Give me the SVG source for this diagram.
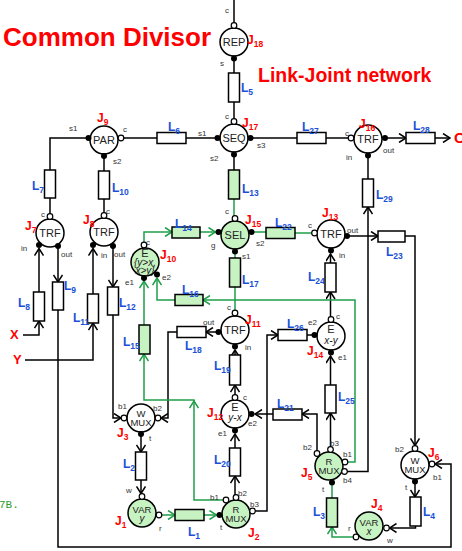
<svg xmlns="http://www.w3.org/2000/svg" width="462" height="551" viewBox="0 0 462 551">
<style>
.ln{fill:none;stroke:#000;stroke-width:1.5}
.gl{fill:none;stroke:#1e9e48;stroke-width:1.5}
.nd{fill:#fff;stroke:#000;stroke-width:1.5}
.ng{fill:#c7f2c1;stroke:#000;stroke-width:1.5}
.lk{fill:#fff;stroke:#000;stroke-width:1.5}
.lg{fill:#c7f2c1;stroke:#000;stroke-width:1.5}
.pf{fill:#000}
.po{fill:#fff;stroke:#000;stroke-width:1.2}
.nt{font-family:"Liberation Sans",Arial,sans-serif;font-size:11px;fill:#222;text-anchor:middle}
.nm{font-family:"Liberation Sans",Arial,sans-serif;font-size:9.5px;fill:#222;text-anchor:middle}
.ni{font-family:"Liberation Sans",Arial,sans-serif;font-size:10px;font-style:italic;fill:#222;text-anchor:middle}
.pt{font-family:"Liberation Sans",Arial,sans-serif;font-size:8px;fill:#333}
.jl{font-family:"Liberation Sans",Arial,sans-serif;font-size:12px;font-weight:bold;fill:#f00}
.ll{font-family:"Liberation Sans",Arial,sans-serif;font-size:12px;font-weight:bold;fill:#1a50d8}
.sb{font-size:8.5px}
.tt{font-family:"Liberation Sans",Arial,sans-serif;font-weight:bold;fill:#f00}
</style>
<defs>
<marker id="a" viewBox="-8 -5 9 10" refX="0" refY="0" markerWidth="9" markerHeight="10" markerUnits="userSpaceOnUse" orient="auto"><path d="M-7,-4.5 L0,0 L-7,4.5" fill="none" stroke="#000" stroke-width="1.5"/></marker>
<marker id="g" viewBox="-8 -5 9 10" refX="0" refY="0" markerWidth="9" markerHeight="10" markerUnits="userSpaceOnUse" orient="auto"><path d="M-7,-4.5 L0,0 L-7,4.5" fill="none" stroke="#1e9e48" stroke-width="1.5"/></marker>
</defs>
<rect width="462" height="551" fill="#fff"/>
<text class="tt" x="3" y="46" font-size="26">Common Divisor</text>
<text class="tt" x="258" y="82" font-size="19.5">Link-Joint network</text>
<text x="-1" y="508" font-family="Liberation Mono,monospace" font-size="11" fill="#2ca02c">7B.</text>
<g id="connectors">
<path class="ln" d="M234,0V23"/>
<path class="ln" d="M234,58V73"/>
<path class="ln" d="M234,102V119"/>
<path class="ln" d="M121,138H157"/>
<path class="ln" d="M186,138H218"/>
<path class="ln" d="M250,138H297"/>
<path class="ln" d="M326,138H351"/>
<path class="ln" d="M385,138H406" marker-end="url(#a)"/>
<path class="ln" d="M435,138H450" marker-end="url(#a)"/>
<path class="ln" d="M234,155V170"/>
<path class="ln" d="M88,138H50V170"/>
<path class="ln" d="M50,198V216"/>
<path class="ln" d="M104,156V171"/>
<path class="ln" d="M104,199V215"/>
<path class="ln" d="M39,292V248.5" marker-end="url(#a)"/>
<path class="ln" d="M23,335H39V321" marker-end="url(#a)"/>
<path class="ln" d="M58,246V282" marker-end="url(#a)"/>
<path class="ln" d="M58,310V547H451V464H435" marker-end="url(#a)"/>
<path class="ln" d="M93,294V248.5" marker-end="url(#a)"/>
<path class="ln" d="M25,360H93V323" marker-end="url(#a)"/>
<path class="ln" d="M113,246V287" marker-end="url(#a)"/>
<path class="ln" d="M113,315V418H121" marker-end="url(#a)"/>
<path class="ln" d="M218,332H206" marker-end="url(#a)"/>
<path class="ln" d="M177,332H168V418H161" marker-end="url(#a)"/>
<path class="ln" d="M141,434V452" marker-end="url(#a)"/>
<path class="ln" d="M141,480V493.5" marker-end="url(#a)"/>
<path class="ln" d="M235,397V385" marker-end="url(#a)"/>
<path class="ln" d="M235,355V350" marker-end="url(#a)"/>
<path class="ln" d="M235,497V476" marker-end="url(#a)"/>
<path class="ln" d="M235,448V434" marker-end="url(#a)"/>
<path class="ln" d="M252,511H267V335H278" marker-end="url(#a)"/>
<path class="ln" d="M307,335H314"/>
<path class="ln" d="M317,453V414H302" marker-end="url(#a)"/>
<path class="ln" d="M273,414H255" marker-end="url(#a)"/>
<path class="ln" d="M330.5,449V413" marker-end="url(#a)"/>
<path class="ln" d="M330.5,385V356" marker-end="url(#a)"/>
<path class="ln" d="M330.5,319V292" marker-end="url(#a)"/>
<path class="ln" d="M330.5,263V254" marker-end="url(#a)"/>
<path class="ln" d="M344,471.5H368V207" marker-end="url(#a)"/>
<path class="ln" d="M368,179V155"/>
<path class="ln" d="M347,236H378" marker-end="url(#a)"/>
<path class="ln" d="M404,236H415V445.5" marker-end="url(#a)"/>
<path class="ln" d="M415,481V497" marker-end="url(#a)"/>
<path class="ln" d="M415.5,526V528H389.5" marker-end="url(#a)"/>
<path class="gl" d="M234,199V216"/>
<path class="gl" d="M235,251V258"/>
<path class="gl" d="M235,287V313"/>
<path class="gl" d="M144,245V232H172" marker-end="url(#g)"/>
<path class="gl" d="M200,232H215.5" marker-end="url(#g)"/>
<path class="gl" d="M251,232H266"/>
<path class="gl" d="M295,233H312"/>
<path class="gl" d="M345,462H355V300H203" marker-end="url(#g)"/>
<path class="gl" d="M175,300H157V278" marker-end="url(#g)"/>
<path class="gl" d="M226,500H194V401" marker-end="url(#g)"/>
<path class="gl" d="M194,401V400H144V354" marker-end="url(#g)"/>
<path class="gl" d="M144,325V281" marker-end="url(#g)"/>
<path class="gl" d="M159,515H175" marker-end="url(#g)"/>
<path class="gl" d="M204,515H216.5" marker-end="url(#g)"/>
<path class="gl" d="M332,482V498"/>
<path class="gl" d="M353.5,537H332V527" marker-end="url(#g)"/>
<text class="tt" x="454" y="143" font-size="15">O</text>
<text class="tt" x="10" y="339" font-size="13">X</text>
<text class="tt" x="13" y="364" font-size="13">Y</text>
</g>
<g id="links">
<g id="L1"><rect class="lg" x="175" y="509.5" width="29" height="11"/><text class="ll" x="188" y="536">L<tspan class="sb" dy="3">1</tspan></text></g>
<g id="L2"><rect class="lk" x="135.5" y="452" width="11" height="28"/><text class="ll" x="123" y="468">L<tspan class="sb" dy="3">2</tspan></text></g>
<g id="L3"><rect class="lg" x="326.5" y="498" width="11" height="29"/><text class="ll" x="313" y="516">L<tspan class="sb" dy="3">3</tspan></text></g>
<g id="L4"><rect class="lk" x="410" y="497" width="11" height="29"/><text class="ll" x="423" y="516">L<tspan class="sb" dy="3">4</tspan></text></g>
<g id="L5"><rect class="lk" x="228.5" y="73" width="11" height="29"/><text class="ll" x="241" y="92">L<tspan class="sb" dy="3">5</tspan></text></g>
<g id="L6"><rect class="lk" x="157" y="132.5" width="29" height="11"/><text class="ll" x="168" y="131">L<tspan class="sb" dy="3">6</tspan></text></g>
<g id="L7"><rect class="lk" x="44.5" y="170" width="11" height="28"/><text class="ll" x="32" y="190">L<tspan class="sb" dy="3">7</tspan></text></g>
<g id="L8"><rect class="lk" x="33.5" y="292" width="11" height="29"/><text class="ll" x="18" y="307">L<tspan class="sb" dy="3">8</tspan></text></g>
<g id="L9"><rect class="lk" x="52.5" y="282" width="11" height="28"/><text class="ll" x="64" y="290">L<tspan class="sb" dy="3">9</tspan></text></g>
<g id="L10"><rect class="lk" x="98.5" y="171" width="11" height="28"/><text class="ll" x="112" y="192">L<tspan class="sb" dy="3">10</tspan></text></g>
<g id="L11"><rect class="lk" x="87.5" y="294" width="11" height="29"/><text class="ll" x="73" y="322">L<tspan class="sb" dy="3">11</tspan></text></g>
<g id="L12"><rect class="lk" x="107.5" y="287" width="11" height="28"/><text class="ll" x="119" y="307">L<tspan class="sb" dy="3">12</tspan></text></g>
<g id="L13"><rect class="lg" x="228.5" y="170" width="11" height="29"/><text class="ll" x="242" y="193">L<tspan class="sb" dy="3">13</tspan></text></g>
<g id="L14"><rect class="lg" x="172" y="227" width="28" height="11"/><text class="ll" x="175" y="228">L<tspan class="sb" dy="3">14</tspan></text></g>
<g id="L15"><rect class="lg" x="139" y="325" width="11" height="29"/><text class="ll" x="123" y="346">L<tspan class="sb" dy="3">15</tspan></text></g>
<g id="L16"><rect class="lg" x="175" y="294.5" width="28" height="11"/><text class="ll" x="182" y="294">L<tspan class="sb" dy="3">16</tspan></text></g>
<g id="L17"><rect class="lg" x="229.5" y="258" width="11" height="29"/><text class="ll" x="242" y="284">L<tspan class="sb" dy="3">17</tspan></text></g>
<g id="L18"><rect class="lk" x="177" y="326.5" width="29" height="11"/><text class="ll" x="185" y="350">L<tspan class="sb" dy="3">18</tspan></text></g>
<g id="L19"><rect class="lk" x="229.5" y="355" width="11" height="30"/><text class="ll" x="214" y="370">L<tspan class="sb" dy="3">19</tspan></text></g>
<g id="L20"><rect class="lk" x="229.5" y="448" width="11" height="28"/><text class="ll" x="214" y="464">L<tspan class="sb" dy="3">20</tspan></text></g>
<g id="L21"><rect class="lk" x="273" y="409" width="29" height="11"/><text class="ll" x="277" y="408">L<tspan class="sb" dy="3">21</tspan></text></g>
<g id="L22"><rect class="lg" x="266" y="227.5" width="29" height="11"/><text class="ll" x="275" y="227">L<tspan class="sb" dy="3">22</tspan></text></g>
<g id="L23"><rect class="lk" x="378" y="231" width="27" height="11"/><text class="ll" x="386" y="256">L<tspan class="sb" dy="3">23</tspan></text></g>
<g id="L24"><rect class="lk" x="325" y="263" width="11" height="29"/><text class="ll" x="308" y="281">L<tspan class="sb" dy="3">24</tspan></text></g>
<g id="L25"><rect class="lk" x="325" y="385" width="11" height="28"/><text class="ll" x="338" y="401">L<tspan class="sb" dy="3">25</tspan></text></g>
<g id="L26"><rect class="lk" x="278" y="329.5" width="29" height="11"/><text class="ll" x="287" y="328">L<tspan class="sb" dy="3">26</tspan></text></g>
<g id="L27"><rect class="lk" x="297" y="132.5" width="29" height="11"/><text class="ll" x="302" y="131">L<tspan class="sb" dy="3">27</tspan></text></g>
<g id="L28"><rect class="lk" x="406" y="132.5" width="29" height="11"/><text class="ll" x="413" y="130">L<tspan class="sb" dy="3">28</tspan></text></g>
<g id="L29"><rect class="lk" x="362.5" y="179" width="11" height="28"/><text class="ll" x="376" y="199">L<tspan class="sb" dy="3">29</tspan></text></g>
</g>
<g id="J18"><circle class="nd" cx="234" cy="42" r="14"/><text class="nt" x="234" y="46">REP</text><circle class="po" cx="234" cy="25.5" r="2.8"/><circle class="pf" cx="234" cy="58.5" r="3"/><text class="pt" x="225" y="13">c</text><text class="pt" x="220" y="66">s</text><text class="jl" x="247" y="44">J<tspan class="sb" dy="3">18</tspan></text></g>
<g id="J17"><circle class="nd" cx="234" cy="138" r="14"/><text class="nt" x="234" y="142">SEQ</text><circle class="po" cx="234" cy="121.5" r="2.8"/><circle class="pf" cx="217.5" cy="138" r="3"/><circle class="pf" cx="250.5" cy="138" r="3"/><circle class="pf" cx="234" cy="154.5" r="3"/><text class="pt" x="225" y="119">c</text><text class="pt" x="198" y="136">s1</text><text class="pt" x="257" y="148">s3</text><text class="pt" x="210" y="161">s2</text><text class="jl" x="242" y="127">J<tspan class="sb" dy="3">17</tspan></text></g>
<g id="J9"><circle class="nd" cx="104" cy="140" r="14"/><text class="nt" x="104" y="144">PAR</text><circle class="pf" cx="88.5" cy="138" r="3"/><circle class="po" cx="121" cy="138" r="2.8"/><circle class="pf" cx="104" cy="156" r="3"/><text class="pt" x="69" y="131">s1</text><text class="pt" x="123" y="132">c</text><text class="pt" x="113" y="164">s2</text><text class="jl" x="97" y="122">J<tspan class="sb" dy="3">9</tspan></text></g>
<g id="J16"><circle class="nd" cx="368" cy="139" r="14"/><text class="nt" x="368" y="143">TRF</text><circle class="po" cx="351" cy="138" r="2.8"/><circle class="pf" cx="385" cy="138" r="3"/><circle class="pf" cx="368" cy="155.5" r="3"/><text class="pt" x="345" y="136">c</text><text class="pt" x="383" y="153">out</text><text class="pt" x="346" y="160">in</text><text class="jl" x="359" y="128">J<tspan class="sb" dy="3">16</tspan></text></g>
<g id="J7"><circle class="nd" cx="50" cy="233" r="14"/><text class="nt" x="50" y="237">TRF</text><circle class="po" cx="50" cy="216.5" r="2.8"/><circle class="pf" cx="39" cy="245" r="3"/><circle class="pf" cx="58" cy="246" r="3"/><text class="pt" x="41" y="217">c</text><text class="pt" x="21" y="251">in</text><text class="pt" x="61" y="257">out</text><text class="jl" x="25" y="230">J<tspan class="sb" dy="3">7</tspan></text></g>
<g id="J8"><circle class="nd" cx="104" cy="232" r="14"/><text class="nt" x="104" y="236">TRF</text><circle class="po" cx="104" cy="215.5" r="2.8"/><circle class="pf" cx="93" cy="245" r="3"/><circle class="pf" cx="113" cy="246" r="3"/><text class="pt" x="106" y="214">c</text><text class="pt" x="101" y="258">in</text><text class="pt" x="114" y="257">out</text><text class="jl" x="83" y="224">J<tspan class="sb" dy="3">8</tspan></text></g>
<g id="J15"><circle class="ng" cx="235" cy="235" r="14"/><text class="nt" x="235" y="239">SEL</text><circle class="po" cx="235" cy="218.5" r="2.8"/><circle class="pf" cx="218.5" cy="232" r="3"/><circle class="pf" cx="251.5" cy="232" r="3"/><circle class="pf" cx="235" cy="251.5" r="3"/><text class="pt" x="225" y="214">c</text><text class="pt" x="211" y="248">g</text><text class="pt" x="256" y="246">s2</text><text class="pt" x="242" y="259">s1</text><text class="jl" x="245" y="224">J<tspan class="sb" dy="3">15</tspan></text></g>
<g id="J13"><circle class="nd" cx="331" cy="234" r="14"/><text class="nt" x="331" y="238">TRF</text><circle class="po" cx="314.5" cy="233" r="2.8"/><circle class="pf" cx="347" cy="236" r="3"/><circle class="pf" cx="331" cy="250.5" r="3"/><text class="pt" x="308" y="228">c</text><text class="pt" x="347" y="233">out</text><text class="pt" x="339" y="258">in</text><text class="jl" x="322" y="217">J<tspan class="sb" dy="3">13</tspan></text></g>
<g id="J10"><circle class="ng" cx="145" cy="262" r="14"/><text class="nt" x="145" y="257" font-size="10">E</text><text class="ni" x="145" y="266" font-size="7.5">{y&gt;x,</text><text class="ni" x="145" y="274" font-size="7.5">x&gt;y}</text><circle class="po" cx="144" cy="245" r="2.8"/><circle class="pf" cx="144" cy="278" r="3"/><circle class="pf" cx="157" cy="274.5" r="3"/><text class="pt" x="146" y="245">c</text><text class="pt" x="125" y="285">e1</text><text class="pt" x="162" y="280">e2</text><text class="jl" x="160" y="259">J<tspan class="sb" dy="3">10</tspan></text></g>
<g id="J11"><circle class="nd" cx="235" cy="330" r="14"/><text class="nt" x="235" y="334">TRF</text><circle class="po" cx="235" cy="313" r="2.8"/><circle class="pf" cx="218.5" cy="332" r="3"/><circle class="pf" cx="235" cy="346.5" r="3"/><text class="pt" x="227" y="310">c</text><text class="pt" x="203" y="325">out</text><text class="pt" x="245" y="350">in</text><text class="jl" x="245" y="324">J<tspan class="sb" dy="3">11</tspan></text></g>
<g id="J14"><circle class="nd" cx="331" cy="336" r="14"/><text class="nt" x="331" y="333" font-size="10">E</text><text class="ni" x="331" y="344">x-y</text><circle class="po" cx="331" cy="319.5" r="2.8"/><circle class="pf" cx="314.5" cy="335" r="3"/><circle class="pf" cx="331" cy="352.5" r="3"/><text class="pt" x="336" y="319">c</text><text class="pt" x="308" y="325">e2</text><text class="pt" x="338" y="360">e1</text><text class="jl" x="307" y="355">J<tspan class="sb" dy="3">14</tspan></text></g>
<g id="J12"><circle class="nd" cx="235" cy="414" r="14"/><text class="nt" x="235" y="411" font-size="10">E</text><text class="ni" x="235" y="421">y-x</text><circle class="po" cx="235" cy="397.5" r="2.8"/><circle class="pf" cx="251.5" cy="414" r="3"/><circle class="pf" cx="235" cy="430.5" r="3"/><text class="pt" x="243" y="400">c</text><text class="pt" x="248" y="426">e2</text><text class="pt" x="218" y="436">e1</text><text class="jl" x="207" y="417">J<tspan class="sb" dy="3">12</tspan></text></g>
<g id="J3"><circle class="nd" cx="141" cy="418" r="14"/><text class="nm" x="141" y="416.5">W</text><text class="nm" x="141" y="426">MUX</text><circle class="po" cx="124" cy="418" r="2.8"/><circle class="po" cx="158" cy="418" r="2.8"/><circle class="pf" cx="141" cy="434" r="3"/><text class="pt" x="118" y="409">b1</text><text class="pt" x="153" y="411">b2</text><text class="pt" x="149" y="441">t</text><text class="jl" x="117" y="437">J<tspan class="sb" dy="3">3</tspan></text></g>
<g id="J1"><circle class="ng" cx="142" cy="513" r="14"/><text class="nm" x="142" y="512.5" font-size="10">VAR</text><text class="ni" x="142" y="521.5">y</text><circle class="po" cx="142" cy="496.5" r="2.8"/><circle class="po" cx="159" cy="515" r="2.8"/><text class="pt" x="126" y="493">w</text><text class="pt" x="159" y="531">r</text><text class="jl" x="115" y="525">J<tspan class="sb" dy="3">1</tspan></text></g>
<g id="J2"><circle class="ng" cx="236" cy="514" r="14"/><text class="nm" x="236" y="512.5">R</text><text class="nm" x="236" y="522">MUX</text><circle class="pf" cx="219.5" cy="515" r="3"/><circle class="po" cx="226" cy="500" r="2.8"/><circle class="po" cx="236" cy="497.5" r="2.8"/><circle class="po" cx="252.5" cy="511" r="2.8"/><text class="pt" x="210" y="500">b1</text><text class="pt" x="238" y="496">b2</text><text class="pt" x="250" y="507">b3</text><text class="pt" x="220" y="530">t</text><text class="jl" x="248" y="537">J<tspan class="sb" dy="3">2</tspan></text></g>
<g id="J5"><circle class="ng" cx="329" cy="466" r="14"/><text class="nm" x="329" y="464.5">R</text><text class="nm" x="329" y="474">MUX</text><circle class="po" cx="317" cy="453.5" r="2.8"/><circle class="po" cx="330.5" cy="449.5" r="2.8"/><circle class="po" cx="345" cy="462" r="2.8"/><circle class="po" cx="344.5" cy="471.5" r="2.8"/><circle class="pf" cx="332" cy="482.5" r="3"/><text class="pt" x="303" y="450">b2</text><text class="pt" x="330" y="446">b3</text><text class="pt" x="343" y="457">b1</text><text class="pt" x="343" y="483">b4</text><text class="pt" x="322" y="492">t</text><text class="jl" x="301" y="477">J<tspan class="sb" dy="3">5</tspan></text></g>
<g id="J4"><circle class="ng" cx="369" cy="526" r="14"/><text class="nm" x="369" y="525.5" font-size="10">VAR</text><text class="ni" x="369" y="534.5">x</text><circle class="po" cx="356" cy="537" r="2.8"/><circle class="po" cx="386.5" cy="528" r="2.8"/><text class="pt" x="348" y="531">r</text><text class="pt" x="387" y="543">w</text><text class="jl" x="371" y="508">J<tspan class="sb" dy="3">4</tspan></text></g>
<g id="J6"><circle class="nd" cx="415" cy="465" r="14"/><text class="nm" x="415" y="463.5">W</text><text class="nm" x="415" y="473">MUX</text><circle class="po" cx="415" cy="448.5" r="2.8"/><circle class="po" cx="432" cy="464" r="2.8"/><circle class="pf" cx="415" cy="481.5" r="3"/><text class="pt" x="395" y="452">b2</text><text class="pt" x="433" y="480">b1</text><text class="pt" x="405" y="490">t</text><text class="jl" x="428" y="457">J<tspan class="sb" dy="3">6</tspan></text></g>
</svg>
